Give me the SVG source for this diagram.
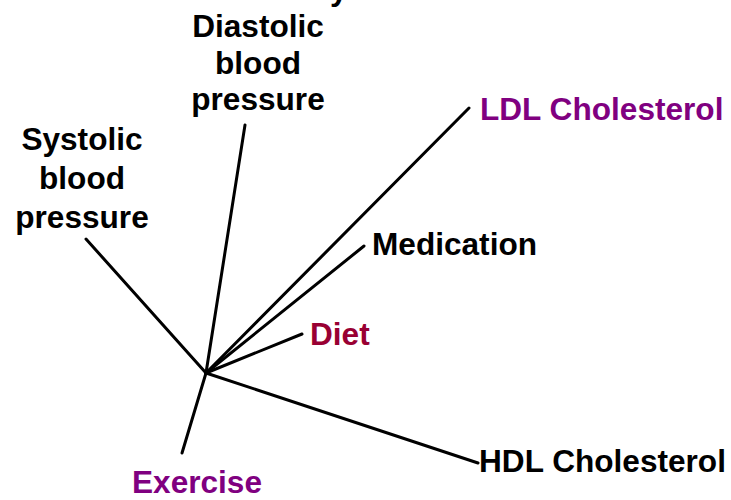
<svg xmlns="http://www.w3.org/2000/svg" width="731" height="500" viewBox="0 0 731 500">
<style>
text{font-family:"Liberation Sans",Arial,sans-serif;font-weight:bold;font-size:31.6px}
.k{fill:#000}
.p{fill:#800080}
.r{fill:#990033}
.c{text-anchor:middle}
#connectors line{stroke:#000;stroke-width:3;stroke-linecap:round}
</style>
<rect width="731" height="500" fill="#fff"/>
<text class="k" x="330" y="0">y</text>
<g id="connectors">
<line x1="206" y1="373" x2="245" y2="125"/>
<line x1="206" y1="373" x2="86" y2="239"/>
<line x1="206" y1="373" x2="469" y2="108"/>
<line x1="206" y1="373" x2="364" y2="246"/>
<line x1="206" y1="373" x2="302" y2="334"/>
<line x1="206" y1="373" x2="478" y2="463"/>
<line x1="206" y1="373" x2="182" y2="453"/>
</g>
<g id="diastolic"><text class="k c" x="258" y="37">Diastolic</text><text class="k c" x="258" y="73.5">blood</text><text class="k c" x="258" y="110">pressure</text></g>
<g id="systolic"><text class="k c" x="82" y="150">Systolic</text><text class="k c" x="82" y="189">blood</text><text class="k c" x="82" y="228">pressure</text></g>
<g id="ldl"><text class="p" x="480" y="120">LDL Cholesterol</text></g>
<g id="medication"><text class="k" x="372" y="255">Medication</text></g>
<g id="diet"><text class="r" x="310" y="345">Diet</text></g>
<g id="hdl"><text class="k" x="479" y="472">HDL Cholesterol</text></g>
<g id="exercise"><text class="p" x="132" y="493">Exercise</text></g>
</svg>
